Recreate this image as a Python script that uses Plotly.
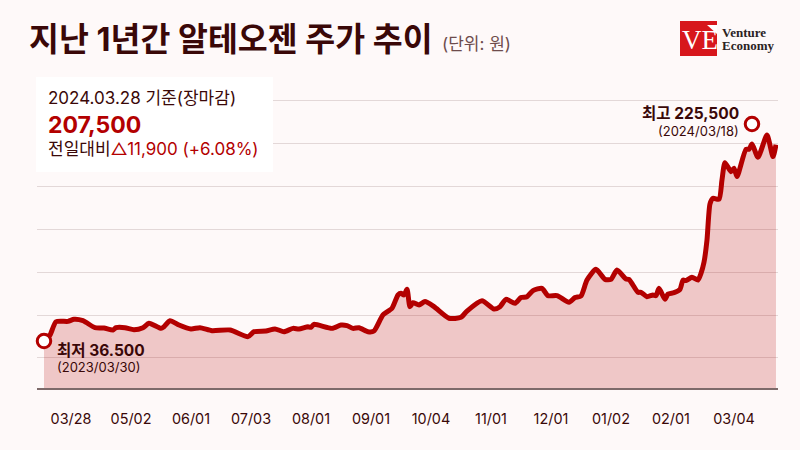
import plotly.graph_objects as go

# trading day index from the first point, prices (won)
day_index = [0, 2, 4, 8, 10, 13, 17, 20, 23, 24, 27, 30, 33, 35, 39, 40, 42, 45, 49, 52,
             56, 62, 68, 70, 74, 77, 80, 83, 85, 88, 89, 90, 96, 99, 101, 103, 105, 108, 110, 113,
             116, 118, 119, 120, 121, 122, 123, 125, 127, 130, 135, 139, 141, 146, 150, 152, 154, 157, 159, 161,
             163, 166, 168, 171, 175, 177, 179, 181, 184, 187, 189, 191, 194, 195, 198, 199, 201, 203, 204, 205,
             207, 208, 210, 212, 213, 214, 216, 218, 219, 220, 221, 222, 223, 225, 226, 227, 229, 230, 231, 234, 235,
             236, 238, 241, 243, 244]
price = [36500, 41700, 53300, 53600, 55400, 54200, 48100, 47800, 46100, 48100, 48100, 46400, 48100, 51900, 47500, 49000, 54200, 50400, 47000, 48100,
         45500, 46100, 40300, 44600, 45200, 47000, 44600, 47500, 47000, 49000, 48400, 51000, 47500, 50400, 49900, 47500, 48100, 44600, 45200, 59200,
         65000, 76600, 78000, 76600, 81500, 66400, 69900, 67900, 70800, 66400, 56300, 57100, 62600, 71600, 64400, 66400, 72800, 69300, 74300, 75100,
         80400, 82400, 76000, 76000, 70200, 74300, 75700, 89600, 98900, 90200, 90200, 98300, 90500, 90200, 78900, 78900, 75100, 76600, 76000, 82400,
         72800, 77400, 78600, 81500, 89600, 89100, 92000, 89600, 95400, 105000, 124500, 155900, 160800, 159900, 176800, 191800, 184000, 186900, 179700, 203500, 203500,
         208100, 196500, 215900, 197100, 207500]

tick_index = [9, 29, 49, 69, 89, 109, 129, 149, 169, 189, 209, 230]
tick_labels = ["03/28", "05/02", "06/01", "07/03", "08/01", "09/01", "10/04", "11/01", "12/01", "01/02", "02/01", "03/04"]

marker_index = [0, 236]
marker_price = [36500, 225500]

DARK = "#3a0808"
RED = "#b30000"
BG = "#fef9f9"
FONT = "Inter, 'Noto Sans CJK KR', sans-serif"
Y_FLOOR = -4437


# page pixels to paper coords, plot area is 37..778 x 96..388
def px(x):
    return (x - 37) / 741


def py(y):
    return (388 - y) / 292


def label(x, y, text, size, color=DARK, anchor="left", family=FONT):
    fig.add_annotation(x=px(x), y=py(y), xref="paper", yref="paper", text=text, showarrow=False,
                       xanchor=anchor, yanchor="middle", xshift=-3 if anchor == "left" else 1,
                       font=dict(size=size, color=color, family=family))


fig = go.Figure()

fig.add_trace(go.Scatter(x=day_index, y=[Y_FLOOR] * len(day_index), mode="lines",
                         line=dict(width=0), hoverinfo="skip"))
fig.add_trace(go.Scatter(x=day_index, y=price, mode="lines", fill="tonexty",
                         fillcolor="rgba(179,0,0,0.2)",
                         line=dict(color=RED, width=5, shape="spline", smoothing=0.6)))
fig.add_trace(go.Scatter(x=marker_index, y=marker_price, mode="markers", cliponaxis=False,
                         marker=dict(size=13.5, color="white", line=dict(color=RED, width=3))))

# white info box
fig.add_shape(type="rect", xref="paper", yref="paper", layer="above",
              x0=px(36), x1=px(273), y0=py(172), y1=py(77),
              fillcolor="white", line=dict(width=0))

# logo
fig.add_shape(type="rect", xref="paper", yref="paper", x0=px(680), x1=px(717), y0=py(56), y1=py(21),
              fillcolor="#d7171c", line=dict(width=0))
fig.add_shape(type="path", xref="paper", yref="paper",
              path=f"M {px(707)} {py(25)} L {px(717)} {py(25)} L {px(717)} {py(34)} Z",
              fillcolor="white", line=dict(width=0))
label(699, 40, "VE", 27, "white", "center", "'Liberation Serif', serif")
label(723, 33, "<b>Venture</b>", 13, "#2b2323", family="'Liberation Serif', serif")
label(723, 46, "<b>Economy</b>", 13, "#2b2323", family="'Liberation Serif', serif")

# title
label(30, 40, "<b>지난 1년간 알테오젠 주가 추이</b>", 32.5)
label(443, 44, "(단위: 원)", 17, "#6e4c4c")

# info box text
label(49, 98, "2024.03.28 기준(장마감)", 17)
label(49, 125, "<b>207,500</b>", 23, RED)
label(49, 149, f"전일대비<span style='color:{RED}'>△11,900 (+6.08%)</span>", 17)

# min / max labels
label(58, 350, "<b>최저 36.500</b>", 15.5)
label(58, 367, "(2023/03/30)", 13)
label(740, 113, "<b>최고 225,500</b>", 15.5, anchor="right")
label(740, 131, "(2024/03/18)", 13, anchor="right")

fig.update_layout(
    width=800, height=450, autosize=False,
    margin=dict(l=37, r=22, t=96, b=62),
    paper_bgcolor=BG, plot_bgcolor=BG,
    showlegend=False,
    font=dict(family=FONT, color=DARK),
    xaxis=dict(range=[-2.33, 244.67], tickvals=tick_index, ticktext=tick_labels,
               tickfont=dict(size=14.4, color=DARK), ticks="outside", ticklen=17,
               tickcolor="rgba(0,0,0,0)", showgrid=False, zeroline=False,
               showline=True, linecolor="#7d6a6a", linewidth=1.5),
    yaxis=dict(range=[Y_FLOOR, 249895], tick0=21700, dtick=37450, showticklabels=False,
               showgrid=True, gridcolor="#e3d8d8", gridwidth=1, zeroline=False, showline=False),
)

# drop the default page margin so the figure fills the window
fig.write_html("out.html", config={"displayModeBar": False},
               post_script=f"document.body.style.margin='0';document.body.style.background='{BG}';document.body.style.overflow='hidden';")
